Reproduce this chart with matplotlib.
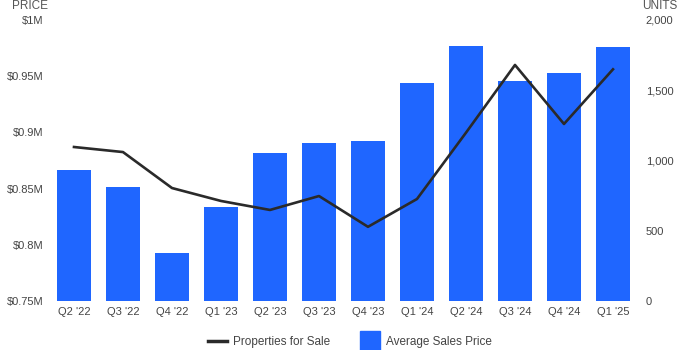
import matplotlib
matplotlib.use("Agg")
import matplotlib.pyplot as plt
from matplotlib.ticker import FuncFormatter
from matplotlib.lines import Line2D

plt.rcParams['font.family'] = ['Liberation Sans', 'DejaVu Sans']

quarters = ["Q2 '22", "Q3 '22", "Q4 '22", "Q1 '23", "Q2 '23", "Q3 '23",
            "Q4 '23", "Q1 '24", "Q2 '24", "Q3 '24", "Q4 '24", "Q1 '25"]
avg_price = [866500, 851500, 792700, 833600, 881700, 890600,
             892300, 944000, 976900, 945700, 952800, 976000]
units_for_sale = [1096, 1060, 804, 712, 648, 747,
                  528, 726, 1198, 1680, 1260, 1649]

BAR_COLOR = "#1f66ff"
LINE_COLOR = "#2a2a2a"
TEXT_COLOR = "#444444"

fig = plt.figure(figsize=(7, 3.5), dpi=100)
ax1 = fig.add_axes([0.0707, 0.14, 0.84, 0.8029])
x = range(len(quarters))
ax1.bar(x, avg_price, width=0.69, color=BAR_COLOR, zorder=2)
ax1.set_ylim(750000, 1000000)
ax1.set_xlim(-0.5, len(quarters) - 0.5)
ax1.set_yticks([750000, 800000, 850000, 900000, 950000, 1000000])
ax1.yaxis.set_major_formatter(FuncFormatter(lambda v, p: f"${v / 1e6:g}M"))
ax1.set_xticks(list(x))
ax1.set_xticklabels(quarters)

ax2 = ax1.twinx()
ax2.plot(x, units_for_sale, color=LINE_COLOR, linewidth=1.9, zorder=3)
ax2.set_ylim(0, 2000)
ax2.set_yticks([0, 500, 1000, 1500, 2000])
ax2.yaxis.set_major_formatter(FuncFormatter(lambda v, p: f"{v:,.0f}"))

for ax in (ax1, ax2):
    for s in ax.spines.values():
        s.set_visible(False)
    ax.tick_params(length=0, labelsize=8, colors=TEXT_COLOR, pad=6)
ax1.tick_params(axis="y", pad=4.5)
ax1.tick_params(axis="x", pad=4)

fig.text(0.017, 0.973, "PRICE", fontsize=8.5, color="#555555", va="baseline", ha="left")
fig.text(0.918, 0.973, "UNITS", fontsize=8.5, color="#555555", va="baseline", ha="left")

handles = [Line2D([0], [0], color=LINE_COLOR, linewidth=2.5),
           Line2D([0], [0], marker="s", linestyle="none", markersize=15,
                  markerfacecolor=BAR_COLOR, markeredgecolor=BAR_COLOR)]
fig.legend(handles, ["Properties for Sale", "Average Sales Price"],
           loc="lower center", bbox_to_anchor=(0.5, -0.025), ncol=2,
           frameon=False, fontsize=8.5, handlelength=1.6, handletextpad=0.5,
           columnspacing=2.6, labelcolor=TEXT_COLOR)

fig.savefig("out.png", dpi=100)
